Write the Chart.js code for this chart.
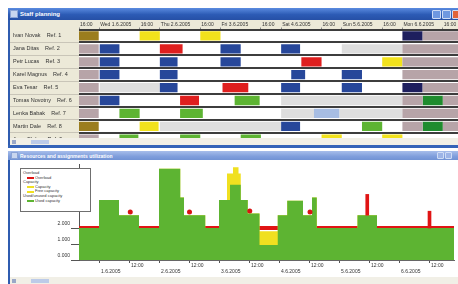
<!DOCTYPE html>
<html>
<head>
<meta charset="utf-8">
<script src="https://cdn.jsdelivr.net/npm/chart.js@4.4.1/dist/chart.umd.min.js"></script>
<style>
  body { margin:0; width:458px; height:284px; overflow:hidden; background:#fff; position:relative;
         font-family:"Liberation Sans", Arial, sans-serif; }
  .abs { position:absolute; }
  .bar1 { left:8px; top:8px; width:452px; height:12px; background:linear-gradient(#5a8be0,#2c5bb5 55%,#2650a6); }
  .bar2 { left:8px; top:151px; width:452px; height:9px; background:linear-gradient(#a7bdea,#7f9edc 60%,#7192d4); }
  .ttl { color:#fff; font-size:6px; font-weight:bold; white-space:nowrap; }
  .ico { width:6px; height:6px; background:#c9d6ef; border:1px solid #8aa3d6; }
  .btn { width:7px; height:7px; border-radius:1px; background:#6f98e0; border:1px solid #cfdcf5; }
  #win1 { left:8px; top:20px; width:450px; height:126px; background:#ece9d8; border-left:2px solid #2f5cb0; }
  #win1bottom { left:8px; top:145px; width:452px; height:3px; background:#3463b8; }
  #labelRows { left:10px; top:29.5px; width:69px; height:109px;
               background:repeating-linear-gradient(#ece9d8 0, #ece9d8 11.9px, #c9c5b8 11.9px, #c9c5b8 12.91px); }
  #planBox { left:10px; top:20px; width:448px; height:118px; overflow:hidden; }
  .strip { height:7px; background:#f1efe6; }
  #win2 { left:8px; top:160px; width:450px; height:124px; background:#fff; border-left:2px solid #2f5cb0; }
  #loadBox { left:10px; top:160px; width:448px; height:116px; }
  #legendBox { left:20px; top:168px; width:71px; height:44px; background:#fff; border:1px solid #6f6f6f;
               font-size:4px; line-height:4.6px; color:#333; padding:2px 0 0 2px; box-sizing:border-box; }
  #legendBox .it { padding-left:12px; position:relative; }
  #legendBox .sw { position:absolute; left:4px; top:1.3px; width:7px; height:2px; }
</style>
</head>
<body>
<div class="abs bar1"></div>
<div class="abs ico" style="left:10px;top:10px;"></div>
<div class="abs ttl" style="left:20px;top:11px;">Staff planning</div>
<div class="abs btn" style="left:432px;top:10px;"></div>
<div class="abs btn" style="left:442px;top:10px;"></div>
<div class="abs btn" style="left:452px;top:10px;background:#e0623a;"></div>
<div class="abs" id="win1"></div>
<div class="abs" id="labelRows"></div>
<div class="abs" id="planBox"><canvas id="planChart" width="448" height="129"></canvas></div>
<div class="abs strip" style="left:10px;top:138px;width:448px;"></div>
<div class="abs" style="left:12px;top:139.5px;width:4px;height:4px;background:#9aa8c8;"></div>
<div class="abs" style="left:31px;top:139.5px;width:18px;height:4px;background:#bccbe8;"></div>
<div class="abs" id="win1bottom"></div>

<div class="abs bar2"></div>
<div class="abs ico" style="left:11px;top:152px;width:5px;height:5px;"></div>
<div class="abs ttl" style="left:20px;top:152.5px;font-size:5px;">Resources and assignments utilization</div>
<div class="abs btn" style="left:437px;top:152px;width:5px;height:5px;background:#9db4e6;"></div>
<div class="abs btn" style="left:445px;top:152px;width:5px;height:5px;background:#9db4e6;"></div>
<div class="abs" id="win2"></div>
<div class="abs" id="loadBox"><canvas id="loadChart" width="448" height="116"></canvas></div>
<div class="abs" id="legendBox">
  <div>Overload</div>
  <div class="it"><span class="sw" style="background:#e01414"></span>Overload</div>
  <div>Capacity</div>
  <div class="it"><span class="sw" style="background:#f0e020"></span>Capacity</div>
  <div class="it"><span class="sw" style="background:#f0e020"></span>Free capacity</div>
  <div>Used/unused capacity</div>
  <div class="it"><span class="sw" style="background:#5db432"></span>Used capacity</div>
</div>
<div class="abs strip" style="left:10px;top:277px;width:448px;"></div>
<div class="abs" style="left:12px;top:278.5px;width:4px;height:4px;background:#9aa8c8;"></div>
<div class="abs" style="left:31px;top:278.5px;width:18px;height:4px;background:#bccbe8;"></div>

<script>
// Staff rows of the planning board
const staffNames = ['Ivan Novak', 'Jana Ditas', 'Petr Lucas', 'Karel Magnus', 'Eva Tesar',
  'Tomas Novotny', 'Lenka Babak', 'Martin Dale', 'Anna Blaha'];
const staffRefs = ['Ref. 1', 'Ref. 2', 'Ref. 3', 'Ref. 4', 'Ref. 5', 'Ref. 6', 'Ref. 7', 'Ref. 8', 'Ref. 9'];

// hours from 1.6.2005 0:00 ; [row, start, end]
const absence = [[0, -8, 0], [7, -8, 0]];
const dayOff = [[1, -8, 0], [2, -8, 0], [3, -8, 0], [4, -8, 0], [5, -8, 0], [6, -8, 0], [8, -8, 0],
  [0, 128, 150], [1, 120, 150], [2, 120, 150], [3, 120, 150], [4, 128, 150],
  [5, 120, 128], [5, 136, 150], [6, 120, 150], [7, 120, 128], [7, 136, 150]];
const earlyShift = [[1, 0, 8], [1, 48, 56], [1, 72, 79.5], [2, 0, 8], [2, 24, 31], [2, 48, 56],
  [3, 0, 8], [3, 24, 31], [3, 76, 81.5], [3, 96, 104], [4, 24, 31], [4, 72, 79.5], [4, 96, 104],
  [5, 0, 8], [7, 72, 79.5]];
const lateShift = [[1, 24, 33], [2, 80, 88], [4, 48.8, 59], [5, 32, 39.5]];
const nightShift = [[0, 16, 24], [0, 40, 48], [2, 112, 120], [7, 16, 23.5], [8, 88, 96], [8, 112, 120]];
const nightLead = [[0, 120, 128], [4, 120, 128]];
const training = [[5, 53.6, 63.5], [6, 8, 16], [6, 32, 41], [7, 104, 112], [8, 8, 15.5], [8, 32, 40], [8, 56, 64]];
const course = [[5, 128, 136], [7, 128, 136]];
const standby = [[6, 85, 95]];
const unavailable = [[1, 96, 120], [4, 0, 24], [5, 72, 120], [6, 72, 85], [6, 95, 120], [7, 24, 72]];

const headerTickHours = [-8, 0, 16, 24, 40, 48, 64, 72, 88, 96, 112, 120, 136];
const headerTickLabels = ['16:00', 'Wed 1.6.2005', '16:00', 'Thu 2.6.2005', '16:00', 'Fri 3.6.2005',
  '16:00', 'Sat 4.6.2005', '16:00', 'Sun 5.6.2005', '16:00', 'Mon 6.6.2005', '16:00'];

// Utilization chart
const loadHours = [-8, 0, 8, 16, 24, 32.5, 34, 42.5, 48, 51.2, 52.4, 53.6, 55.8, 56.7, 59.5, 64.2,
  71.5, 75.3, 81.6, 85.2, 87.1, 103.4, 111.2, 142];
const usedLoad = [2.0, 3.75, 2.8, 2.0, 5.7, 3.9, 2.8, 2.0, 3.75, 3.75, 4.7, 4.7, 4.7, 3.75, 2.9, 0.94,
  2.8, 3.7, 2.8, 3.9, 2.0, 2.8, 2.0, 2.0];
const freeLoad = [0, 0, 0, 0, 0, 0, 0, 0, 0, 1.65, 0.7, 1.1, 0.7, 0, 0, 0.86,
  0, 0, 0, 0, 0, 0, 0, 0];
const capacityLevel = 2;
const overloadHours = [12.5, 36.2, 60.3, 84.4];
const overloadValues = [3.0, 3.0, 3.06, 3.0];
const peakHours = [107.3, 132.2];
const peakFrom = [2.8, 2.0];
const peakTo = [4.1, 3.05];

const yTickValues = [0, 1, 2];
const axisTickHours = [0, 12, 24, 36, 48, 60, 72, 84, 96, 108, 120, 132];
const axisTickLabels = ['1.6.2005', '12:00', '2.6.2005', '12:00', '3.6.2005', '12:00',
  '4.6.2005', '12:00', '5.6.2005', '12:00', '6.6.2005', '12:00'];

Chart.defaults.font.family = '"Liberation Sans", Arial, sans-serif';

const plotBg = {
  id: 'plotBg',
  beforeDraw(chart) {
    const a = chart.chartArea;
    chart.ctx.save();
    chart.ctx.fillStyle = '#fff';
    chart.ctx.fillRect(a.left, a.top, a.right - a.left, a.bottom - a.top);
    chart.ctx.restore();
  }
};

const rowLabels = staffNames.map((n, i) => n + '    ' + staffRefs[i]);

const shiftTypes = [
  { items: absence, color: '#9b7d1e' },
  { items: dayOff, color: '#b7a4a8' },
  { items: earlyShift, color: '#27479a' },
  { items: lateShift, color: '#df1f1f' },
  { items: nightShift, color: '#f2e21c' },
  { items: nightLead, color: '#1e1f5e' },
  { items: training, color: '#5db432' },
  { items: course, color: '#1f8c2e' },
  { items: standby, color: '#a7bde3' },
  { items: unavailable, color: '#dedede' }
];

new Chart(document.getElementById('planChart'), {
  type: 'bar',
  data: {
    labels: rowLabels,
    datasets: shiftTypes.map(t => ({
      data: t.items.map(s => ({ x: [s[1], s[2]], y: rowLabels[s[0]] })),
      backgroundColor: t.color,
      borderWidth: 0
    }))
  },
  options: {
    indexAxis: 'y',
    responsive: false,
    animation: false,
    layout: { padding: { left: 3, right: 0, top: 0, bottom: 0 } },
    datasets: { bar: { grouped: false, barPercentage: 0.72, categoryPercentage: 1 } },
    plugins: { legend: { display: false }, tooltip: { enabled: false } },
    scales: {
      x: {
        type: 'linear', position: 'top', min: -8, max: 142,
        afterBuildTicks: s => { s.ticks = headerTickHours.map(v => ({ value: v })); },
        afterFit: s => { s.height = 9.5; },
        grid: { drawOnChartArea: false, tickLength: 2, color: '#8a8a8a' },
        border: { display: false },
        ticks: {
          autoSkip: false, maxRotation: 0, align: 'start', padding: 0, labelOffset: 1,
          font: { size: 5 }, color: '#333',
          callback: v => headerTickLabels[headerTickHours.indexOf(v)]
        }
      },
      y: {
        afterFit: s => { s.width = 66; },
        grid: { color: '#3d3d3d', lineWidth: 2, drawTicks: false },
        border: { display: false },
        ticks: { crossAlign: 'far', padding: 0, autoSkip: false, font: { size: 5.5 }, color: '#333' }
      }
    }
  },
  plugins: [plotBg]
});

const stepPoints = vals => loadHours.map((h, i) => ({ x: h, y: vals[i] }));

new Chart(document.getElementById('loadChart'), {
  type: 'line',
  data: {
    datasets: [
      {
        data: stepPoints(usedLoad), stepped: true, fill: 'origin',
        backgroundColor: '#5db432', borderWidth: 0, pointRadius: 0, order: 1
      },
      {
        data: stepPoints(usedLoad.map((v, i) => v + freeLoad[i])), stepped: true, fill: 'origin',
        backgroundColor: '#f0e020', borderWidth: 0, pointRadius: 0, order: 2
      },
      {
        data: loadHours.map(h => ({ x: h, y: capacityLevel })), stepped: true, fill: false,
        borderColor: '#e01414', borderWidth: 4, pointRadius: 0, order: 3
      },
      {
        data: overloadHours.map((h, i) => ({ x: h, y: overloadValues[i] })), showLine: false,
        pointRadius: 2.5, pointBorderWidth: 0, pointBackgroundColor: '#d81414', order: 0
      },
      {
        type: 'bar',
        data: peakHours.map((h, i) => ({ x: h, y: [peakFrom[i], peakTo[i]] })),
        backgroundColor: '#e01414', barThickness: 3, order: 0
      }
    ]
  },
  options: {
    responsive: false,
    animation: false,
    layout: { padding: { left: 0, right: 0, top: 4, bottom: 0 } },
    plugins: { legend: { display: false }, tooltip: { enabled: false } },
    scales: {
      x: {
        type: 'linear', min: -8, max: 142, offset: false,
        afterBuildTicks: s => { s.ticks = axisTickHours.map(v => ({ value: v })); },
        afterFit: s => { s.height = 16; },
        grid: { drawOnChartArea: false, offset: false, tickLength: 3, color: '#555' },
        border: { display: true, color: '#666' },
        ticks: {
          autoSkip: false, maxRotation: 0, align: 'start', padding: 0, labelOffset: 2,
          font: { size: 5 }, color: '#333',
          callback: v => {
            const lab = axisTickLabels[axisTickHours.indexOf(v)];
            return lab.indexOf('.') > 0 ? ['', lab] : lab;
          }
        }
      },
      y: {
        min: 0, max: 6,
        afterBuildTicks: s => { s.ticks = yTickValues.map(v => ({ value: v })); },
        afterFit: s => { s.width = 69; },
        grid: { drawOnChartArea: false, tickLength: 8, color: '#555' },
        border: { display: true, color: '#555' },
        ticks: {
          padding: 1, labelOffset: -4, font: { size: 5 }, color: '#333',
          callback: v => v.toFixed(3)
        }
      }
    }
  }
});
</script>
</body>
</html>
